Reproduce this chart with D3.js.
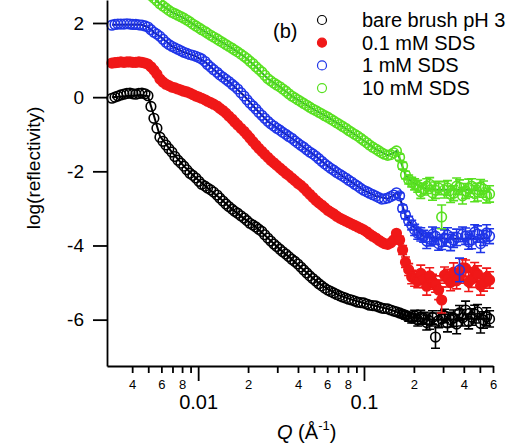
<!DOCTYPE html>
<html lang="en">
<head>
    <meta charset="UTF-8"/>
    <title>Reflectivity</title>
    <script src="https://cdnjs.cloudflare.com/ajax/libs/d3/7.8.5/d3.min.js"></script>
    <style>
        body { margin: 0; background: #fff; }
        svg { display: block; font-family: "Liberation Sans", Arial, sans-serif; }
        .axis path, .axis line { stroke: #000; stroke-width: 1.8; }
        .axis text { fill: #000; font-family: "Liberation Sans", Arial, sans-serif; }
    </style>
</head>
<body>
<div id="chart"></div>

<script>
    // Q values (1/A) shared by all four curves
    const qGrid = [
        0.00302, 0.00315, 0.00328, 0.00342, 0.00357, 0.00372, 0.00388, 0.00404, 0.00421, 0.00439,
        0.00458, 0.00478, 0.00498, 0.00519, 0.00541, 0.00564, 0.00588, 0.00613, 0.00639, 0.00666,
        0.00694, 0.00724, 0.00755, 0.00787, 0.00820, 0.00855, 0.00891, 0.00929, 0.00969, 0.0101,
        0.0105, 0.0110, 0.0114, 0.0119, 0.0124, 0.0130, 0.0135, 0.0141, 0.0147, 0.0153,
        0.0160, 0.0166, 0.0173, 0.0181, 0.0189, 0.0197, 0.0205, 0.0214, 0.0223, 0.0232,
        0.0242, 0.0252, 0.0263, 0.0274, 0.0286, 0.0298, 0.0311, 0.0324, 0.0338, 0.0352,
        0.0367, 0.0383, 0.0399, 0.0416, 0.0433, 0.0452, 0.0471, 0.0491, 0.0512, 0.0534,
        0.0556, 0.0580, 0.0605, 0.0630, 0.0657, 0.0685, 0.0714, 0.0744, 0.0776, 0.0809,
        0.0843, 0.0879, 0.0917, 0.0956, 0.0996, 0.104, 0.108, 0.113, 0.118, 0.123,
        0.128, 0.133, 0.139, 0.145, 0.151, 0.157, 0.164, 0.171, 0.178, 0.186,
        0.194, 0.202, 0.211, 0.220, 0.229, 0.239, 0.249, 0.259, 0.270, 0.282,
        0.294, 0.306, 0.319, 0.333, 0.347, 0.362, 0.377, 0.393, 0.410, 0.428,
        0.446, 0.465, 0.484, 0.505, 0.526, 0.549, 0.572
    ];

    // log(reflectivity), offset curves
    const bareBrush = [
        -0.03, 0.00, 0.03, 0.06, 0.08, 0.10, 0.11, 0.09, 0.08, 0.10,
        0.11, 0.09, 0.04, -0.25, -0.57, -0.84, -1.08, -1.19, -1.29, -1.39,
        -1.48, -1.60, -1.70, -1.78, -1.86, -1.96, -2.05, -2.11, -2.18, -2.27,
        -2.35, -2.40, -2.45, -2.50, -2.56, -2.64, -2.72, -2.80, -2.88, -2.95,
        -3.02, -3.08, -3.13, -3.20, -3.26, -3.33, -3.40, -3.45, -3.50, -3.56,
        -3.62, -3.71, -3.80, -3.88, -3.96, -4.03, -4.10, -4.17, -4.23, -4.30,
        -4.37, -4.43, -4.50, -4.58, -4.66, -4.74, -4.82, -4.89, -4.96, -5.03,
        -5.09, -5.15, -5.20, -5.24, -5.28, -5.32, -5.36, -5.39, -5.42, -5.45,
        -5.47, -5.50, -5.53, -5.54, -5.55, -5.58, -5.61, -5.62, -5.63, -5.66,
        -5.69, -5.70, -5.71, -5.74, -5.77, -5.79, -5.82, -5.85, -5.88, -5.92,
        -5.96, -5.90, -6.01, -5.93, -5.96, -6.08, -6.04, -5.94, -6.47, -6.02,
        -5.98, -5.90, -6.09, -6.00, -5.96, -6.12, -5.82, -5.95, -5.74, -6.05,
        -5.93, -5.85, -5.79, -6.10, -6.01, -5.92, -5.98
    ];
    const sds01 = [
        0.92, 0.93, 0.94, 0.95, 0.94, 0.95, 0.95, 0.94, 0.94, 0.95,
        0.94, 0.92, 0.89, 0.82, 0.73, 0.62, 0.49, 0.41, 0.35, 0.31,
        0.27, 0.25, 0.22, 0.19, 0.16, 0.14, 0.11, 0.07, 0.03, 0.00,
        -0.03, -0.07, -0.11, -0.15, -0.19, -0.24, -0.30, -0.36, -0.43, -0.51,
        -0.59, -0.67, -0.75, -0.84, -0.92, -1.01, -1.10, -1.20, -1.29, -1.38,
        -1.46, -1.54, -1.62, -1.70, -1.77, -1.84, -1.91, -1.98, -2.05, -2.11,
        -2.18, -2.25, -2.32, -2.38, -2.45, -2.54, -2.62, -2.70, -2.78, -2.85,
        -2.91, -2.98, -3.05, -3.10, -3.15, -3.21, -3.26, -3.30, -3.34, -3.38,
        -3.42, -3.46, -3.50, -3.54, -3.58, -3.63, -3.69, -3.75, -3.80, -3.86,
        -3.91, -3.95, -3.97, -3.93, -3.85, -3.67, -3.85, -4.12, -4.45, -4.65,
        -4.85, -4.90, -4.96, -4.75, -4.93, -5.10, -4.82, -4.98, -5.04, -5.20,
        -5.47, -4.80, -4.88, -5.00, -4.72, -4.95, -4.82, -4.60, -4.61, -4.98,
        -4.91, -4.70, -4.77, -5.08, -5.01, -4.85, -4.93
    ];
    const sds1 = [
        1.94, 1.96, 1.97, 1.97, 1.97, 1.98, 1.97, 1.96, 1.96, 1.95,
        1.94, 1.92, 1.89, 1.82, 1.75, 1.70, 1.64, 1.56, 1.48, 1.42,
        1.37, 1.33, 1.29, 1.25, 1.21, 1.18, 1.15, 1.13, 1.10, 1.07,
        1.03, 0.96, 0.88, 0.81, 0.74, 0.67, 0.60, 0.54, 0.48, 0.42,
        0.35, 0.29, 0.22, 0.12, 0.03, -0.07, -0.16, -0.24, -0.32, -0.41,
        -0.49, -0.57, -0.65, -0.72, -0.78, -0.84, -0.89, -0.95, -1.00, -1.06,
        -1.11, -1.18, -1.24, -1.30, -1.35, -1.42, -1.48, -1.53, -1.59, -1.66,
        -1.73, -1.80, -1.86, -1.92, -1.97, -2.03, -2.08, -2.13, -2.18, -2.24,
        -2.29, -2.35, -2.40, -2.46, -2.51, -2.55, -2.59, -2.63, -2.67, -2.71,
        -2.75, -2.74, -2.72, -2.68, -2.64, -2.58, -2.66, -3.00, -3.18, -3.33,
        -3.45, -3.58, -3.67, -3.70, -3.75, -3.88, -3.83, -3.70, -3.75, -3.95,
        -3.91, -3.80, -3.72, -3.92, -3.85, -3.78, -4.66, -3.70, -3.75, -3.90,
        -3.85, -3.64, -3.69, -3.95, -3.80, -3.66, -3.75
    ];
    const sds10 = [
        2.88, 2.90, 2.91, 2.91, 2.91, 2.92, 2.91, 2.91, 2.91, 2.90,
        2.88, 2.85, 2.80, 2.74, 2.67, 2.60, 2.52, 2.46, 2.40, 2.34,
        2.29, 2.25, 2.21, 2.17, 2.13, 2.08, 2.03, 1.97, 1.92, 1.87,
        1.82, 1.77, 1.72, 1.67, 1.62, 1.57, 1.52, 1.47, 1.42, 1.37,
        1.32, 1.27, 1.22, 1.16, 1.10, 1.04, 0.97, 0.90, 0.82, 0.75,
        0.68, 0.59, 0.50, 0.44, 0.38, 0.33, 0.28, 0.22, 0.16, 0.09,
        0.03, -0.02, -0.07, -0.12, -0.17, -0.22, -0.27, -0.32, -0.36, -0.41,
        -0.45, -0.50, -0.54, -0.59, -0.64, -0.69, -0.74, -0.79, -0.84, -0.90,
        -0.95, -1.00, -1.05, -1.11, -1.17, -1.23, -1.29, -1.35, -1.40, -1.45,
        -1.50, -1.54, -1.57, -1.55, -1.50, -1.45, -1.62, -1.85, -2.10, -2.22,
        -2.29, -2.35, -2.40, -2.55, -2.48, -2.40, -2.35, -2.58, -2.51, -2.45,
        -3.23, -2.50, -2.45, -2.62, -2.59, -2.40, -2.43, -2.66, -2.53, -2.45,
        -2.40, -2.60, -2.56, -2.42, -2.48, -2.65, -2.61
    ];

    // error bars on the last (high Q) points
    const bareErr = [
        0.08, 0.09, 0.10, 0.12, 0.13, 0.15, 0.16, 0.18, 0.16, 0.20,
        0.22, 0.18, 0.30, 0.20, 0.22, 0.18, 0.24, 0.20, 0.22, 0.26,
        0.20, 0.22, 0.24, 0.20, 0.22, 0.24, 0.20, 0.26, 0.22, 0.24, 0.22
    ];
    const sds01Err = [
        0.10, 0.12, 0.14, 0.16, 0.18, 0.20, 0.18, 0.22, 0.20, 0.24,
        0.22, 0.20, 0.22, 0.26, 0.35, 0.22, 0.24, 0.22, 0.25, 0.22,
        0.20, 0.24, 0.22, 0.26, 0.22, 0.24, 0.22, 0.26, 0.22, 0.24, 0.22
    ];
    const sds1Err = [
        0.08, 0.09, 0.10, 0.12, 0.13, 0.15, 0.16, 0.18, 0.16, 0.20,
        0.18, 0.20, 0.22, 0.18, 0.20, 0.22, 0.20, 0.22, 0.20, 0.22,
        0.32, 0.20, 0.22, 0.20, 0.24, 0.20, 0.22, 0.24, 0.20, 0.22, 0.20
    ];
    const sds10Err = [
        0.08, 0.09, 0.10, 0.12, 0.13, 0.15, 0.16, 0.18, 0.16, 0.20,
        0.18, 0.20, 0.22, 0.18, 0.32, 0.22, 0.20, 0.22, 0.20, 0.22,
        0.20, 0.22, 0.20, 0.24, 0.20, 0.22, 0.24, 0.20, 0.22, 0.20, 0.22
    ];

    // model fits
    const fitQ = [
        0.00302, 0.0045, 0.00498, 0.00541, 0.00588, 0.0069, 0.0082, 0.0097, 0.0114, 0.0135,
        0.016, 0.0189, 0.0223, 0.0263, 0.0311, 0.0367, 0.0433, 0.0512, 0.0605, 0.0714,
        0.0843, 0.0996, 0.118, 0.139, 0.151, 0.157, 0.164, 0.178, 0.194, 0.229,
        0.27, 0.319, 0.377, 0.446, 0.572
    ];
    const bareFit = [
        0.0, 0.06, 0.03, -0.5, -1.05, -1.47, -1.86, -2.18, -2.45, -2.72,
        -3.02, -3.27, -3.50, -3.80, -4.10, -4.37, -4.66, -4.95, -5.18, -5.35,
        -5.46, -5.55, -5.63, -5.71, -5.76, -5.79, -5.82, -5.88, -5.93, -5.98,
        -6.0, -6.0, -5.98, -5.97, -5.98
    ];
    const sds01Fit = [
        0.93, 0.94, 0.89, 0.73, 0.50, 0.28, 0.16, 0.03, -0.11, -0.30,
        -0.59, -0.92, -1.29, -1.62, -1.91, -2.18, -2.45, -2.78, -3.05, -3.26,
        -3.42, -3.58, -3.80, -3.97, -3.82, -3.70, -3.90, -4.45, -4.85, -4.93,
        -4.95, -4.93, -4.92, -4.95, -4.98
    ];
    const sds1Fit = [
        1.95, 1.96, 1.89, 1.75, 1.64, 1.38, 1.21, 1.10, 0.90, 0.60,
        0.35, 0.04, -0.32, -0.65, -0.89, -1.11, -1.35, -1.59, -1.86, -2.08,
        -2.29, -2.51, -2.67, -2.74, -2.64, -2.58, -2.70, -3.18, -3.45, -3.75,
        -3.80, -3.82, -3.82, -3.82, -3.80
    ];
    const sds10Fit = [
        2.90, 2.90, 2.80, 2.67, 2.52, 2.30, 2.13, 1.92, 1.72, 1.52,
        1.32, 1.10, 0.82, 0.50, 0.28, 0.03, -0.17, -0.36, -0.54, -0.74,
        -0.95, -1.17, -1.40, -1.57, -1.50, -1.45, -1.65, -2.10, -2.29, -2.45,
        -2.50, -2.50, -2.50, -2.50, -2.55
    ];

    const seriesNames = ["bare brush pH 3", "0.1 mM SDS", "1 mM SDS", "10 mM SDS"];
    const yTicks = [-6, -4, -2, 0, 2];
    const xMinorTicks = [0.004, 0.005, 0.006, 0.007, 0.008, 0.009,
        0.02, 0.03, 0.04, 0.05, 0.06, 0.07, 0.08, 0.09, 0.2, 0.3, 0.4, 0.5, 0.6];
    const xMinorLabels = [0.004, 0.006, 0.008, 0.02, 0.04, 0.06, 0.08, 0.2, 0.4, 0.6];
    const xMajorTicks = [0.01, 0.1];

    // Setup
    const width = 516;
    const height = 446;
    const margin = {top: 0, right: 23, bottom: 80, left: 107};

    const svg = d3
        .select("#chart")
        .append("svg")
        .attr("width", width)
        .attr("height", height);

    const xScale = d3
        .scaleLog()
        .domain([0.00282, 0.6])
        .range([margin.left, width - margin.right]);

    const yScale = d3
        .scaleLinear()
        .domain([-7.25, 2.62])
        .range([height - margin.bottom, margin.top]);

    const series = [
        {name: seriesNames[0], values: bareBrush, err: bareErr, fit: bareFit, color: "#000000", fitColor: "#000000", filled: false},
        {name: seriesNames[1], values: sds01, err: sds01Err, fit: sds01Fit, color: "#f01818", fitColor: "#a00000", filled: true},
        {name: seriesNames[2], values: sds1, err: sds1Err, fit: sds1Fit, color: "#1f35e8", fitColor: "#0a1490", filled: false},
        {name: seriesNames[3], values: sds10, err: sds10Err, fit: sds10Fit, color: "#58e020", fitColor: "#2ea82e", filled: false}
    ];

    const line = d3
        .line()
        .x((d) => xScale(d.q))
        .y((d) => yScale(d.r));

    // Draw curves
    series.forEach((s) => {
        const g = svg.append("g");
        const pts = qGrid.map((q, i) => ({q: q, r: s.values[i]}));

        // fit underneath the data
        g.append("path")
            .datum(fitQ.map((q, i) => ({q: q, r: s.fit[i]})))
            .attr("d", line)
            .attr("fill", "none")
            .attr("stroke", s.fitColor)
            .attr("stroke-width", 2);

        // error bars
        const offset = qGrid.length - s.err.length;
        const errPts = s.err.map((e, i) => ({q: qGrid[offset + i], r: s.values[offset + i], e: e}));
        g.selectAll(".err")
            .data(errPts)
            .enter()
            .append("path")
            .attr("class", "err")
            .attr("d", (d) => {
                const x = xScale(d.q);
                const y1 = yScale(d.r - d.e);
                const y2 = yScale(d.r + d.e);
                return `M${x},${y1}V${y2}M${x - 4.5},${y1}H${x + 4.5}M${x - 4.5},${y2}H${x + 4.5}`;
            })
            .attr("fill", "none")
            .attr("stroke", s.color)
            .attr("stroke-width", 1.6);

        // markers
        g.selectAll(".pt")
            .data(pts)
            .enter()
            .append("circle")
            .attr("class", "pt")
            .attr("cx", (d) => xScale(d.q))
            .attr("cy", (d) => yScale(d.r))
            .attr("r", 4.8)
            .attr("fill", s.filled ? s.color : "none")
            .attr("stroke", s.color)
            .attr("stroke-width", 1.6);
    });

    // Y axis
    const yAxis = svg
        .append("g")
        .attr("class", "axis")
        .attr("transform", `translate(${margin.left},0)`)
        .call(d3.axisLeft(yScale)
            .tickValues(yTicks)
            .tickSize(14)
            .tickSizeOuter(0)
            .tickPadding(9)
            .tickFormat((d) => String(d)));
    yAxis.selectAll("text").attr("font-size", 19);

    // X axis, minor ticks
    const xBase = height - margin.bottom;
    const xMinor = svg
        .append("g")
        .attr("class", "axis")
        .attr("transform", `translate(0,${xBase})`)
        .call(d3.axisBottom(xScale)
            .tickValues(xMinorTicks)
            .tickSize(7)
            .tickSizeOuter(0)
            .tickPadding(7)
            .tickFormat((d) => xMinorLabels.includes(d) ? String(Math.round(d / Math.pow(10, Math.floor(Math.log10(d) + 1e-9)))) : ""));
    xMinor.selectAll("text").attr("font-size", 13);

    // X axis, decades
    const xMajor = svg
        .append("g")
        .attr("class", "axis")
        .attr("transform", `translate(0,${xBase})`)
        .call(d3.axisBottom(xScale)
            .tickValues(xMajorTicks)
            .tickSize(15)
            .tickSizeOuter(0)
            .tickPadding(14)
            .tickFormat((d) => String(d)));
    xMajor.select(".domain").remove();
    xMajor.selectAll("text").attr("font-size", 20);

    // Axis titles
    svg
        .append("text")
        .attr("transform", "translate(40,168) rotate(-90)")
        .attr("text-anchor", "middle")
        .attr("font-size", 19)
        .text("log(reflectivity)");

    const xTitle = svg
        .append("text")
        .attr("x", 277)
        .attr("y", 439)
        .attr("font-size", 20);
    xTitle.append("tspan").attr("font-style", "italic").text("Q");
    xTitle.append("tspan").text(" (Å");
    xTitle.append("tspan").attr("font-size", 13).attr("dy", -9).text("-1");
    xTitle.append("tspan").attr("dy", 9).text(")");

    // Panel tag
    svg
        .append("text")
        .attr("x", 273)
        .attr("y", 38)
        .attr("font-size", 20)
        .text("(b)");

    // Legend
    const legend = svg
        .selectAll(".legend")
        .data(series)
        .enter()
        .append("g")
        .attr("class", "legend")
        .attr("transform", (d, i) => `translate(322,${20 + i * 22.7})`);

    legend
        .append("circle")
        .attr("r", 4.5)
        .attr("fill", (d) => d.filled ? d.color : "none")
        .attr("stroke", (d) => d.color)
        .attr("stroke-width", 1.2);

    legend
        .append("text")
        .attr("x", 40)
        .attr("dy", "0.35em")
        .attr("font-size", 20)
        .text((d) => d.name);
</script>
</body>
</html>
